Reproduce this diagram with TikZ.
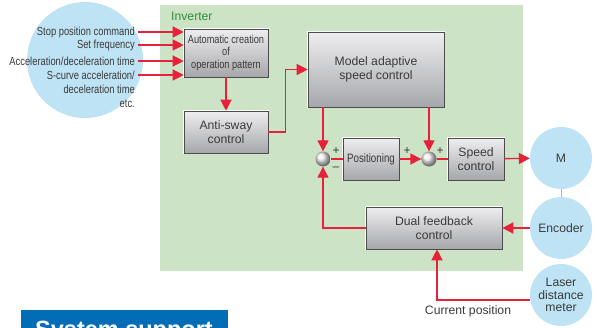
\documentclass[tikz,border=0pt]{standalone}
\usepackage{fontspec}
\setmainfont{Liberation Sans}
\newfontfamily\narrowsans{Liberation Sans}[FakeStretch=0.8]
\usetikzlibrary{arrows.meta}
\definecolor{sigred}{HTML}{E8213A}
\definecolor{invgreen}{HTML}{CCE3C5}
\definecolor{invtext}{HTML}{2F8F3F}
\definecolor{skyblue}{HTML}{BEE3F5}
\definecolor{linkblue}{HTML}{7CC0E0}
\definecolor{txtgray}{HTML}{3A3A3A}
\definecolor{boxtop}{HTML}{EEEEF0}
\definecolor{boxbot}{HTML}{A6A7AB}
\definecolor{bannerblue}{HTML}{006DB6}

\begin{document}
\begin{tikzpicture}[x=1pt, y=-1pt,
		block/.style={draw=gray!60!black, line width=0.6pt, top color=boxtop, bottom color=boxbot, text=txtgray, align=center, inner sep=0pt, font=\fontsize{12.2}{14.5}\selectfont, preaction={draw=white, line width=2.4pt}},
		sumjoint/.style={circle, shading=ball, ball color=gray!15, minimum size=15pt, inner sep=0pt},
		device/.style={circle, fill=skyblue, minimum size=62pt, inner sep=0pt, align=center, text=txtgray, font=\fontsize{12.2}{12.5}\selectfont},
		lbl/.style={anchor=east, inner sep=0pt, text=txtgray, font=\narrowsans\fontsize{11.7}{13}\selectfont},
		sign/.style={inner sep=0pt, text=txtgray, font=\fontsize{12}{12}\selectfont},
		flow/.style={draw=sigred, line width=1.3pt, -{Triangle[length=11pt, width=11pt]}},
		link/.style={draw=sigred, line width=1.3pt}]
		\useasboundingbox (0, 0) rectangle (597, 327);

		% inverter area and command source
		\fill[invgreen] (160, 5) rectangle (523, 271);
		\node[anchor=west, inner sep=0pt, text=invtext, font=\fontsize{12.2}{14}\selectfont] at (171, 16) (inv) {Inverter};
		\node[device, minimum size=116pt] at (85, 60) (cmdsrc) {};

		\node[lbl] at (135, 32) (lstop) {Stop position command};
		\node[lbl] at (135, 45) (lfreq) {Set frequency};
		\node[lbl] at (135, 61) (lacc) {Acceleration/deceleration time};
		\node[lbl] at (135, 75) (lscurve) {S-curve acceleration/};
		\node[lbl] at (135, 89) (ldecel) {deceleration time};
		\node[lbl] at (135, 104) (letc) {etc.};

		% blocks
		\node[block, minimum width=84pt, minimum height=48pt, font=\narrowsans\fontsize{11.5}{12.5}\selectfont] at (226, 53) (auto) {Automatic creation\\of\\operation pattern};
		\node[block, minimum width=84pt, minimum height=42pt] at (226, 132) (sway) {Anti-sway\\control};
		\node[block, minimum width=136pt, minimum height=75pt] at (376, 69.5) (model) {Model adaptive\\speed control};
		\node[block, minimum width=56pt, minimum height=42pt, font=\narrowsans\fontsize{12.2}{13}\selectfont] at (371, 159) (pos) {Positioning};
		\node[block, minimum width=56pt, minimum height=42pt] at (476, 159) (speed) {Speed\\control};
		\node[block, minimum width=136pt, minimum height=42pt] at (434, 228) (dual) {Dual feedback\\control};

		\node[sumjoint] at (323, 159) (j1) {};
		\node[sumjoint] at (429, 159) (j2) {};
		\node[sign] at (336, 151) (s1) {+};
		\node[sign] at (336, 169) (s2) {–};
		\node[sign] at (407, 151) (s3) {+};
		\node[sign] at (440, 151) (s4) {+};

		\node[device] at (561, 158) (motor) {M};
		\node[device] at (561, 228) (enc) {Encoder};
		\node[device] at (561, 295) (laser) {Laser\\distance\\meter};
		\node[inner sep=0pt, text=txtgray, font=\fontsize{12.2}{14}\selectfont] at (468, 311) (curpos) {Current position};

		% connectors
		\draw[flow] ([xshift=3pt]lstop.east) -- (lstop.east -| auto.west);
		\draw[flow] ([xshift=3pt]lfreq.east) -- (lfreq.east -| auto.west);
		\draw[flow] ([xshift=3pt]lacc.east) -- (lacc.east -| auto.west);
		\draw[flow] ([xshift=3pt]lscurve.east) -- (lscurve.east -| auto.west);
		\draw[flow] (auto) -- (sway);
		\draw[flow] (sway.east) -- ++(17, 0) |- (model.west);
		\draw[flow] (model.south -| j1) -- (j1);
		\draw[flow] (model.south -| j2) -- (j2);
		\draw[link] (j1) -- (pos);
		\draw[flow] (pos) -- (j2);
		\draw[link] (j2) -- (speed);
		\draw[flow] (speed) -- (motor);
		\draw[linkblue, line width=1pt] (motor) -- (enc);
		\draw[flow] (enc) -- (dual);
		\draw[flow] (dual.west) -| (j1);
		\draw[flow] ([yshift=-5pt]laser.west) -| ([xshift=3pt]dual.south);

		% banner, cut at the lower edge
		\begin{scope}
			\clip (0, 0) rectangle (597, 327);
			\fill[bannerblue] (21, 310) rectangle (228, 345);
			\node[anchor=base west, inner sep=0pt, text=white, font=\fontsize{23.5}{24}\selectfont\bfseries] at (35, 337) (banner) {System support};
		\end{scope}
	\end{tikzpicture}
\end{document}
